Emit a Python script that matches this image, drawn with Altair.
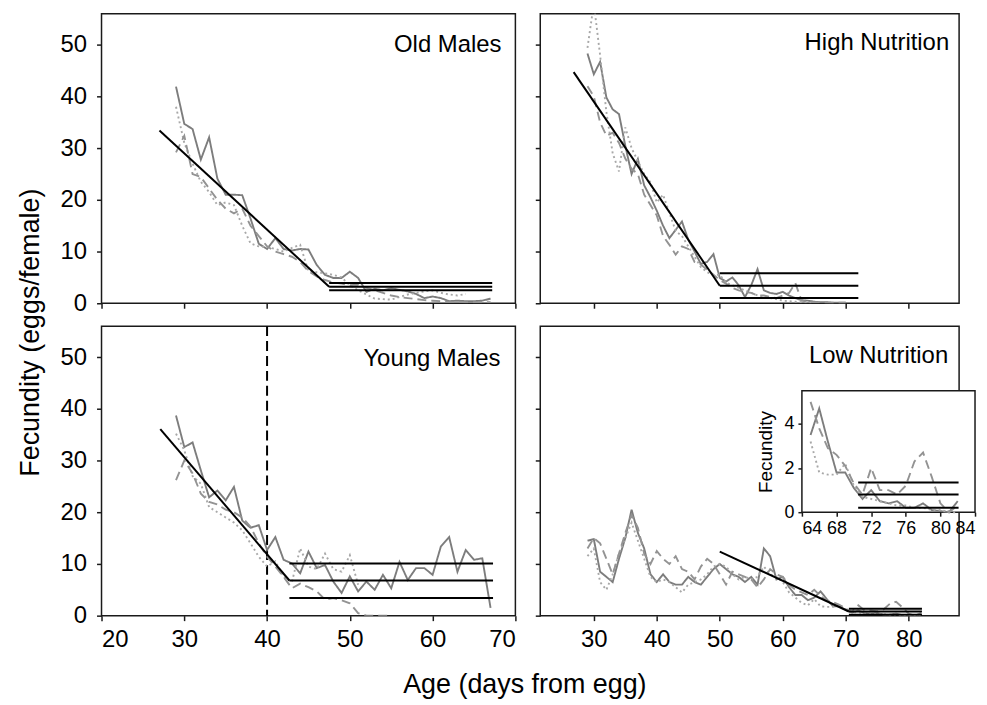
import altair as alt
import pandas as pd

FONT = "Liberation Sans"

# ---------------- data ----------------
Y_DOMAIN = [0, 56]
Y_TICKS = [0, 10, 20, 30, 40, 50]
LEFT_X_DOMAIN = [20, 70]
LEFT_X_TICKS = [20, 30, 40, 50, 60, 70]
RIGHT_X_DOMAIN = [21.5, 88]
RIGHT_X_TICKS = [30, 40, 50, 60, 70, 80]

SERIES = ["solid", "dotted", "dashed"]

# Old Males, days 29..67
OLD_DAYS = list(range(29, 68))
OLD_SOLID = [41.9, 34.7, 33.7, 27.8, 32.1, 24.1, 21.0, 21.0, 20.9, 16.4, 11.5, 10.5, 12.6, 10.5,
             10.2, 10.5, 10.4, 7.4, 5.5, 4.9, 4.9, 6.1, 4.9, 2.2, 2.8, 2.5, 2.9, 2.6, 2.3, 1.8,
             1.0, 1.3, 1.0, 0.4, 0.5, 0.4, 0.4, 0.5, 0.9]
OLD_DOTTED = [38.0, 31.0, 27.0, 23.5, 21.5, 19.0, 19.5, 19.0, 15.0, 11.6, 11.0, 10.9, 10.5, 10.0,
              10.7, 11.3, 6.2, 6.0, 5.8, 5.5, 5.0, 3.5, 2.5, 1.7, 0.9, 0.8, 0.7, 1.2, 1.7, 2.0,
              2.3, 2.5, 2.0, 1.7, 1.5, 1.8, None, None, None]
OLD_DASHED = [29.2, 32.4, 25.0, 24.4, 22.2, 20.0, 18.3, 17.4, 18.3, 15.0, 13.0, 11.0, 10.0, 9.5,
              9.0, 8.0, 6.2, 5.2, 4.5, 4.0, 3.8, 3.5, 3.6, 3.0, 2.5, 2.0, 1.5, 1.2, 1.0, 0.8,
              0.6, 0.5, 0.4, 0.3, 0.3, 0.2, 0.2, 0.2, 0.2]
OLD_FIT_START = [27.0, 33.4]
OLD_FIT_BREAK = [47.5, 3.2]
OLD_PLATEAUS = [3.9, 3.2, 2.5]
OLD_FIT_END = 67.2

# High Nutrition, days 29..70
HIGH_DAYS = list(range(29, 71))
HIGH_SOLID = [48.3, 44.3, 46.7, 39.8, 37.5, 36.6, 30.5, 25.0, 27.9, 22.8, 20.5, 17.9, 15.0, 12.6,
              14.2, 15.8, 12.3, 10.0, 7.6, 8.0, 9.5, 4.9, 4.2, 5.0, 3.5, 1.2, 3.5, 6.6, 2.5, 2.0,
              1.8, 2.2, 1.5, 1.0, 0.6, 0.5, 0.3, 0.2, 0.2, 0.1, 0.1, 0.1]
HIGH_DOTTED = [49.4, 58.0, 48.0, 37.0, 29.0, 25.5, 34.0, 30.0, 27.5, 25.0, 23.4, 19.5, 21.0, 17.5,
               14.0, 13.0, 11.0, 9.0, 7.0, 6.0, 5.5, 5.5, 4.0, 3.5, 3.0, 2.5, 2.0, 1.5, 1.2, 1.0,
               0.8, 0.5, 0.4, 0.3, 0.2, 0.2, 0.1, None, None, None, None, None]
HIGH_DASHED = [42.0, 40.0, 35.0, 32.4, 33.0, 31.0, 28.0, 26.0, 25.0, 21.0, 19.0, 17.0, 13.0, 11.3,
               9.4, 11.0, 10.5, 8.0, 7.5, 6.5, 5.5, 4.5, 3.8, 3.0, 2.5, 2.2, 2.0, 1.5, 1.5, 1.2,
               1.0, 1.5, 2.0, 3.9, 0.5, 0.3, 0.2, 0.2, 0.1, 0.1, 0.1, 0.1]
HIGH_FIT_START = [26.8, 44.7]
HIGH_FIT_BREAK = [50.0, 3.4]
HIGH_PLATEAUS = [5.8, 3.4, 1.0]
HIGH_FIT_END = 72.0

# Young Males, days 29..67
YOUNG_DAYS = list(range(29, 68))
YOUNG_SOLID = [38.7, 32.6, 33.5, 28.1, 22.9, 24.2, 22.3, 24.9, 18.4, 17.0, 17.5, 12.7, 15.2, 10.8,
               10.1, 8.2, 12.4, 9.2, 9.8, 6.6, 4.4, 7.6, 4.7, 6.6, 5.0, 7.9, 5.3, 10.4, 6.9, 9.2,
               9.2, 7.9, 13.4, 15.2, 8.5, 12.7, 10.8, 11.1, 1.5]
YOUNG_DOTTED = [35.2, 32.0, 27.0, 25.5, 21.0, 20.0, 19.0, 18.0, 16.5, 14.0, 11.4, 9.5, 10.5, 7.5,
                6.5, 13.0, 9.5, 9.0, 12.0, 9.0, 8.5, 11.7, 6.0, None, None, None, None, None,
                None, None, None, None, None, None, None, None, None, None, None]
YOUNG_DASHED = [26.2, 30.0, 27.5, 23.6, 22.0, 21.5, 20.5, 20.0, 19.0, 17.2, 14.0, 11.4, 9.5, 7.5,
                5.3, 6.2, 5.5, 4.7, 3.1, 3.4, 3.0, 2.4, 0.5, 0.0, 0.0, 0.0, 0.0, None, None, None,
                None, None, None, None, None, None, None, None, None]
YOUNG_FIT_START = [27.1, 36.1]
YOUNG_FIT_BREAK = [42.7, 6.8]
YOUNG_PLATEAUS = [10.1, 6.8, 3.4]
YOUNG_FIT_END = 67.3
YOUNG_MARK_DAY = [40]

# Low Nutrition, days 29..82
LOW_DAYS = list(range(29, 83))
LOW_SOLID = [14.5, 14.8, 8.5, 7.5, 6.5, 11.0, 15.0, 20.5, 16.0, 13.0, 8.0, 6.5, 8.0, 6.5, 6.0, 6.0,
             7.5, 6.5, 6.0, 7.5, 9.0, 10.0, 9.0, 8.0, 7.5, 6.5, 7.5, 6.0, 13.0, 11.5, 7.0, 7.5,
             5.5, 4.0, 4.0, 3.0, 3.5, 4.7, 3.2, 1.8, 1.8, 1.1, 0.6, 1.0, 0.5, 0.4, 0.5, 0.2, 0.2,
             0.4, 0.1, 0.05, 0.0, 0.5]
LOW_DOTTED = [11.5, 13.0, 6.5, 5.0, 8.0, 12.0, 15.0, 18.0, 14.5, 11.0, 7.5, 6.5, 7.0, 6.5, 5.5,
              4.5, 6.0, 6.5, 7.0, 8.0, 9.5, 10.0, 9.5, 8.0, 7.0, 7.5, 7.0, 7.5, 9.5, 8.0, 7.5,
              6.5, 4.5, 3.5, 2.5, 2.0, 3.2, 1.8, 1.7, 1.7, 2.2, 1.2, 0.7, 0.6, 0.5, 0.4, 0.3, 0.3,
              0.2, 0.2, 0.1, 0.1, 0.0, 0.0]
LOW_DASHED = [13.0, 15.0, 14.0, 11.0, 8.0, 12.0, 16.0, 19.5, 17.0, 12.0, 10.0, 12.5, 11.0, 10.0,
              11.5, 9.0, 8.5, 7.0, 9.5, 11.0, 10.0, 8.0, 6.0, 8.5, 8.0, 7.5, 7.0, 5.5, 7.0, 9.0,
              8.0, 7.5, 6.0, 5.0, 4.5, 4.0, 5.0, 3.8, 2.9, 2.6, 2.1, 1.3, 0.8, 2.0, 1.0, 1.0, 0.8,
              1.2, 2.3, 2.7, 1.6, 0.4, 0.0, 0.3]
LOW_FIT_START = [50.0, 12.4]
LOW_FIT_BREAK = [70.5, 0.8]
LOW_PLATEAUS = [1.35, 0.8, 0.2]
LOW_FIT_END = 82.1

INSET_X_DOMAIN = [64, 84]
INSET_X_TICKS = [64, 68, 72, 76, 80, 84]
INSET_Y_DOMAIN = [0, 5.5]
INSET_Y_TICKS = [0, 2, 4]
INSET_FIRST_DAY = 65

# ---------------- styling / layout ----------------
SERIES_COLORS = ["#7d7d7d", "#a8a8a8", "#939393"]
SERIES_DASHES = [[1, 0], [2, 3], [9, 5]]
LEFT_W, RIGHT_W, PANEL_H = 416, 421, 291
TICK_FS = 24
INSET_X_RANGE = [263, 437]
INSET_Y_RANGE = [187, 65]


def make_series(days, solid, dotted, dashed, first_day=None):
    rows = []
    for name, vals in zip(SERIES, (solid, dotted, dashed)):
        for d, v in zip(days, vals):
            if v is None:
                continue
            if first_day is not None and d < first_day:
                continue
            rows.append({"day": d, "value": v, "series": name})
    return pd.DataFrame(rows)


def make_fit(start, brk, plateaus, end, with_decline=True):
    rows = []
    if with_decline:
        rows.append({"x1": start[0], "y1": start[1], "x2": brk[0], "y2": brk[1]})
    for p in plateaus:
        rows.append({"x1": brk[0], "y1": p, "x2": end, "y2": p})
    return pd.DataFrame(rows)


color_enc = alt.Color("series:N", scale=alt.Scale(domain=SERIES, range=SERIES_COLORS), legend=None)
dash_enc = alt.StrokeDash("series:N", scale=alt.Scale(domain=SERIES, range=SERIES_DASHES), legend=None)


def panel(series_df, fit_df, label, xdom, xticks, width, show_x, show_y,
          label_dx, label_y, vline=None):
    xscale = alt.Scale(domain=xdom, nice=False, zero=False)
    yscale = alt.Scale(domain=Y_DOMAIN, nice=False)
    xaxis = alt.Axis(values=xticks, labels=show_x, title=None, grid=False, domain=False,
                     tickSize=5, labelFontSize=TICK_FS, labelPadding=7, format="d")
    yaxis = alt.Axis(values=Y_TICKS, labels=show_y, title=None, grid=False, domain=False,
                     tickSize=5, labelFontSize=TICK_FS, labelPadding=10, format="d")
    layers = []
    if vline is not None:
        layers.append(
            alt.Chart(pd.DataFrame({"day": vline}))
            .mark_rule(color="black", strokeWidth=2, strokeDash=[10, 5])
            .encode(x=alt.X("day:Q", scale=xscale, axis=xaxis))
        )
    layers.append(
        alt.Chart(series_df).mark_line(strokeWidth=1.9, clip=True).encode(
            x=alt.X("day:Q", scale=xscale, axis=xaxis),
            y=alt.Y("value:Q", scale=yscale, axis=yaxis),
            color=color_enc, strokeDash=dash_enc,
        )
    )
    layers.append(
        alt.Chart(fit_df).mark_rule(color="black", strokeWidth=2).encode(
            x=alt.X("x1:Q", scale=xscale, axis=xaxis),
            y=alt.Y("y1:Q", scale=yscale, axis=yaxis),
            x2="x2:Q", y2="y2:Q",
        )
    )
    layers.append(
        alt.Chart(pd.DataFrame({"label": [label]}))
        .mark_text(align="right", baseline="alphabetic", fontSize=24, font=FONT, color="black")
        .encode(text="label:N", x=alt.value(width - label_dx), y=alt.value(label_y))
    )
    return alt.layer(*layers)


old_chart = panel(make_series(OLD_DAYS, OLD_SOLID, OLD_DOTTED, OLD_DASHED),
                  make_fit(OLD_FIT_START, OLD_FIT_BREAK, OLD_PLATEAUS, OLD_FIT_END),
                  "Old Males", LEFT_X_DOMAIN, LEFT_X_TICKS, LEFT_W, False, True, 14, 38
                  ).properties(width=LEFT_W, height=PANEL_H)
high_chart = panel(make_series(HIGH_DAYS, HIGH_SOLID, HIGH_DOTTED, HIGH_DASHED),
                   make_fit(HIGH_FIT_START, HIGH_FIT_BREAK, HIGH_PLATEAUS, HIGH_FIT_END),
                   "High Nutrition", RIGHT_X_DOMAIN, RIGHT_X_TICKS, RIGHT_W, False, False, 10, 36
                   ).properties(width=RIGHT_W, height=PANEL_H)
young_chart = panel(make_series(YOUNG_DAYS, YOUNG_SOLID, YOUNG_DOTTED, YOUNG_DASHED),
                    make_fit(YOUNG_FIT_START, YOUNG_FIT_BREAK, YOUNG_PLATEAUS, YOUNG_FIT_END),
                    "Young Males", LEFT_X_DOMAIN, LEFT_X_TICKS, LEFT_W, True, True, 15, 40,
                    vline=YOUNG_MARK_DAY
                    ).properties(width=LEFT_W, height=PANEL_H)

low_main = panel(make_series(LOW_DAYS, LOW_SOLID, LOW_DOTTED, LOW_DASHED),
                 make_fit(LOW_FIT_START, LOW_FIT_BREAK, LOW_PLATEAUS, LOW_FIT_END),
                 "Low Nutrition", RIGHT_X_DOMAIN, RIGHT_X_TICKS, RIGHT_W, True, False, 11, 37)

# ---- inset ----
ixscale = alt.Scale(domain=INSET_X_DOMAIN, range=INSET_X_RANGE, nice=False, zero=False)
iyscale = alt.Scale(domain=INSET_Y_DOMAIN, range=INSET_Y_RANGE, nice=False)
ixaxis = alt.Axis(values=INSET_X_TICKS, orient="bottom", offset=INSET_Y_RANGE[0] - PANEL_H,
                  title=None, grid=False, domain=False, tickSize=4, labelFontSize=18,
                  labelPadding=3, format="d")
iyaxis = alt.Axis(values=INSET_Y_TICKS, orient="left", offset=-INSET_X_RANGE[0],
                  title="Fecundity", titleFontSize=19, titleFont=FONT, titleFontWeight="normal",
                  titlePadding=9, grid=False, domain=False, tickSize=4, labelFontSize=18,
                  labelPadding=4, format="d")
inset_box = alt.Chart(pd.DataFrame({"x": [INSET_X_DOMAIN[0]], "x2": [INSET_X_DOMAIN[1]],
                                    "y": [INSET_Y_DOMAIN[0]], "y2": [INSET_Y_DOMAIN[1]]})
                      ).mark_rect(fill="white", stroke="#1a1a1a", strokeWidth=1.5).encode(
    x=alt.X("x:Q", scale=ixscale, axis=ixaxis), x2="x2:Q",
    y=alt.Y("y:Q", scale=iyscale, axis=iyaxis), y2="y2:Q")
inset_lines = alt.Chart(make_series(LOW_DAYS, LOW_SOLID, LOW_DOTTED, LOW_DASHED, INSET_FIRST_DAY)
                        ).mark_line(strokeWidth=1.9).encode(
    x=alt.X("day:Q", scale=ixscale, axis=ixaxis),
    y=alt.Y("value:Q", scale=iyscale, axis=iyaxis),
    color=color_enc, strokeDash=dash_enc)
inset_fit = alt.Chart(make_fit(LOW_FIT_START, LOW_FIT_BREAK, LOW_PLATEAUS, LOW_FIT_END,
                               with_decline=False)).mark_rule(color="black", strokeWidth=2).encode(
    x=alt.X("x1:Q", scale=ixscale, axis=ixaxis), y=alt.Y("y1:Q", scale=iyscale, axis=iyaxis),
    x2="x2:Q", y2="y2:Q")
inset = alt.layer(inset_box, inset_lines, inset_fit)

low_chart = alt.layer(low_main, inset).resolve_scale(x="independent", y="independent"
                                                     ).properties(width=RIGHT_W, height=PANEL_H)

grid = alt.concat(old_chart, high_chart, young_chart, low_chart, columns=2,
                  spacing={"row": 23, "column": 25}, bounds="flush").properties(
    title=alt.TitleParams("Fecundity (eggs/female)", orient="left", anchor="middle", font=FONT,
                          fontSize=27, fontWeight="normal", color="black", offset=14))
chart = alt.vconcat(grid).properties(
    title=alt.TitleParams("Age (days from egg)", orient="bottom", anchor="middle", font=FONT,
                          fontSize=27, fontWeight="normal", color="black", offset=20, dx=28),
    padding={"left": 9, "top": 3, "right": 2, "bottom": 2},
).configure_view(stroke="#1a1a1a", strokeWidth=1.5).configure_axis(
    labelFont=FONT, labelColor="black", tickColor="#1a1a1a", tickWidth=1.5,
    titleColor="black",
)

chart.save("out.html", embed_options={"renderer": "svg", "actions": False})
